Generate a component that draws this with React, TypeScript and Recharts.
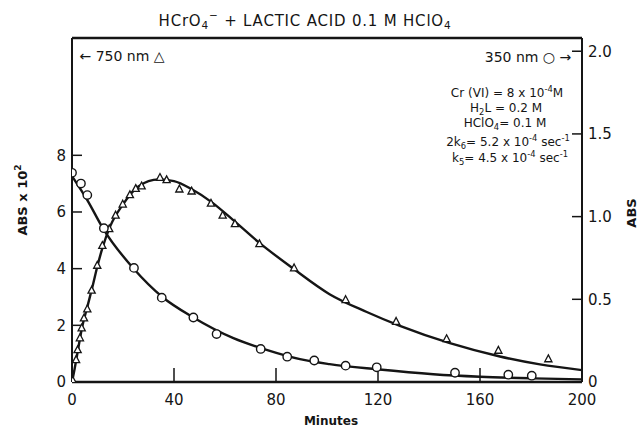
import React from 'react';
import { ComposedChart, Line, Scatter, XAxis, YAxis } from 'recharts';

// 350 nm points (open circles), right axis, ABS
const circleTimes = [0, 3.5, 6, 12.5, 24.3, 35.2, 47.6, 56.7, 74, 84.4, 95, 107.3, 119.5, 150.2, 171.1, 180.3];
const circleAbs = [1.265, 1.2, 1.13, 0.93, 0.69, 0.51, 0.39, 0.29, 0.2, 0.153, 0.13, 0.099, 0.089, 0.056, 0.044, 0.038];

// 750 nm points (open triangles), left axis, ABS x 10^2
const triTimes = [0.3, 1.6, 2.2, 3.1, 3.8, 4.7, 6, 7.7, 9.9, 11.9, 14.6, 17.1, 19.9, 22.7, 25, 27.3, 34.5, 37.1, 42.1, 46.9, 54.5, 59.1, 63.9, 73.5, 87.1, 107.3, 127.1, 146.9, 167.2, 186.8];
const triAbs = [0.05, 0.78, 1.13, 1.55, 1.9, 2.25, 2.57, 3.23, 4.11, 4.81, 5.4, 5.88, 6.27, 6.6, 6.82, 6.91, 7.21, 7.13, 6.8, 6.73, 6.3, 5.88, 5.58, 4.87, 4.02, 2.9, 2.13, 1.52, 1.11, 0.81];

// fitted curves
const circleFitTimes = [0, 6, 12.5, 24.3, 35.2, 47.6, 63.3, 76.3, 89.4, 101, 119.5, 141.7, 160, 180.9, 200];
const circleFitAbs = [1.245, 1.1, 0.92, 0.683, 0.517, 0.39, 0.265, 0.194, 0.138, 0.108, 0.077, 0.047, 0.032, 0.022, 0.016];

const triFitTimes = [0, 1, 2, 4, 6, 8, 10, 12, 15, 20, 26, 34, 40, 47, 55, 63, 73.5, 86.5, 101, 115.6, 128.6, 148.2, 167.8, 183.5, 200];
const triFitAbs = [0, 0.45, 0.95, 1.95, 2.65, 3.35, 4.1, 4.75, 5.5, 6.27, 6.9, 7.15, 7.09, 6.8, 6.33, 5.73, 4.91, 4.02, 3.1, 2.47, 1.98, 1.37, 0.9, 0.62, 0.42];

const xTicks = [0, 40, 80, 120, 160, 200];
const topTicks = [40, 80, 120, 160];
const leftTicks = [0, 2, 4, 6, 8];
const rightTicks = [0, 0.5, 1, 1.5, 2];

const zip = (ts: number[], vs: number[]) => ts.map((t, i) => ({ t, v: vs[i] }));
const circles = zip(circleTimes, circleAbs);
const triangles = zip(triTimes, triAbs);
const circleFit = zip(circleFitTimes, circleFitAbs);
const triFit = zip(triFitTimes, triFitAbs);

const INK = '#151515';
const FONT = '"DejaVu Sans", sans-serif';

const OpenCircle = (p: any) => (
  <circle cx={p.cx} cy={p.cy} r={4.2} fill="#fff" stroke={INK} strokeWidth={1.4} />
);

const OpenTriangle = (p: any) => {
  const { cx, cy } = p;
  const s = 3.6;
  return (
    <path
      d={`M${cx},${cy - s * 1.15} L${cx + s},${cy + s * 0.75} L${cx - s},${cy + s * 0.75} Z`}
      fill="#fff"
      stroke={INK}
      strokeWidth={1.3}
    />
  );
};

const sup = (s: string) => <sup style={{ fontSize: '0.7em', verticalAlign: '0.6em', lineHeight: 0 }}>{s}</sup>;
const sub = (s: string) => <sub style={{ fontSize: '0.7em', verticalAlign: '-0.3em', lineHeight: 0 }}>{s}</sub>;

const Txt = ({ x, y, size = 12, bold = false, rotate = 0, spacing = 0, children }: any) => (
  <div
    style={{
      position: 'absolute',
      left: x,
      top: y,
      transform: `translate(-50%, -50%) rotate(${rotate}deg)`,
      whiteSpace: 'nowrap',
      fontFamily: FONT,
      fontSize: size,
      fontWeight: bold ? 'bold' : 'normal',
      letterSpacing: spacing,
      lineHeight: 1,
      color: INK,
    }}
  >
    {children}
  </div>
);

const tickStyle = { fontFamily: FONT, fontSize: 15, fill: INK };
const NoLabel = () => <g />;

export default function App() {
  return (
    <div style={{ position: 'absolute', left: 0, top: 0, width: 642, height: 428, background: '#fff' }}>
      <ComposedChart width={642} height={428} data={triFit} margin={{ top: 38, right: 0, bottom: 0, left: 0 }}>
        <XAxis
          dataKey="t"
          type="number"
          domain={[0, 200]}
          ticks={xTicks}
          allowDataOverflow
          height={46}
          tickSize={-14}
          tickMargin={26}
          tick={tickStyle}
          axisLine={{ stroke: INK, strokeWidth: 2.5 }}
          tickLine={{ stroke: INK, strokeWidth: 1.5 }}
        />
        <XAxis
          xAxisId="top"
          orientation="top"
          mirror
          type="number"
          domain={[0, 200]}
          ticks={topTicks}
          interval={0}
          allowDataOverflow
          height={1}
          tick={NoLabel}
          tickSize={7}
          axisLine={{ stroke: INK, strokeWidth: 2.5 }}
          tickLine={{ stroke: INK, strokeWidth: 1.5 }}
        />
        <YAxis
          yAxisId="l"
          domain={[0, 12.14]}
          ticks={leftTicks}
          allowDataOverflow
          width={72}
          tickSize={-10}
          tickMargin={16}
          tick={tickStyle}
          axisLine={{ stroke: INK, strokeWidth: 2 }}
          tickLine={{ stroke: INK, strokeWidth: 1.5 }}
        />
        <YAxis
          yAxisId="r"
          orientation="right"
          domain={[0, 2.08]}
          ticks={rightTicks}
          allowDataOverflow
          width={60}
          tickSize={-10}
          tickMargin={16}
          tick={tickStyle}
          tickFormatter={(v: number) => (v === 0 ? '0' : v.toFixed(1))}
          axisLine={{ stroke: INK, strokeWidth: 2 }}
          tickLine={{ stroke: INK, strokeWidth: 1.5 }}
        />
        <Line
          yAxisId="l"
          data={triFit}
          dataKey="v"
          type="monotone"
          stroke={INK}
          strokeWidth={2.4}
          dot={false}
          isAnimationActive={false}
        />
        <Line
          yAxisId="r"
          data={circleFit}
          dataKey="v"
          type="monotone"
          stroke={INK}
          strokeWidth={2.4}
          dot={false}
          isAnimationActive={false}
        />
        <Scatter yAxisId="l" data={triangles} dataKey="v" shape={OpenTriangle} isAnimationActive={false} />
        <Scatter yAxisId="r" data={circles} dataKey="v" shape={OpenCircle} isAnimationActive={false} />
      </ComposedChart>

      <Txt x={305} y={21} size={15} spacing={0.8}>
        HCrO{sub('4')}{sup('−')} + LACTIC ACID 0.1 M HClO{sub('4')}
      </Txt>
      <Txt x={122} y={56} size={14}>← 750 nm △</Txt>
      <Txt x={528} y={57} size={14}>350 nm ○ →</Txt>

      <Txt x={507} y={93} size={12}>Cr (VI) = 8 x 10{sup('-4')}M</Txt>
      <Txt x={506} y={108} size={12}>H{sub('2')}L = 0.2 M</Txt>
      <Txt x={505} y={123} size={12}>HClO{sub('4')}= 0.1 M</Txt>
      <Txt x={508} y={142} size={12}>2k{sub('6')}= 5.2 x 10{sup('-4')} sec{sup('-1')}</Txt>
      <Txt x={510} y={158} size={12}>k{sub('5')}= 4.5 x 10{sup('-4')} sec{sup('-1')}</Txt>

      <Txt x={22} y={200} size={13} bold rotate={-90}>ABS x 10{sup('2')}</Txt>
      <Txt x={631} y={213} size={13} bold rotate={-90}>ABS</Txt>
      <Txt x={331} y={421} size={12} bold>Minutes</Txt>
    </div>
  );
}
